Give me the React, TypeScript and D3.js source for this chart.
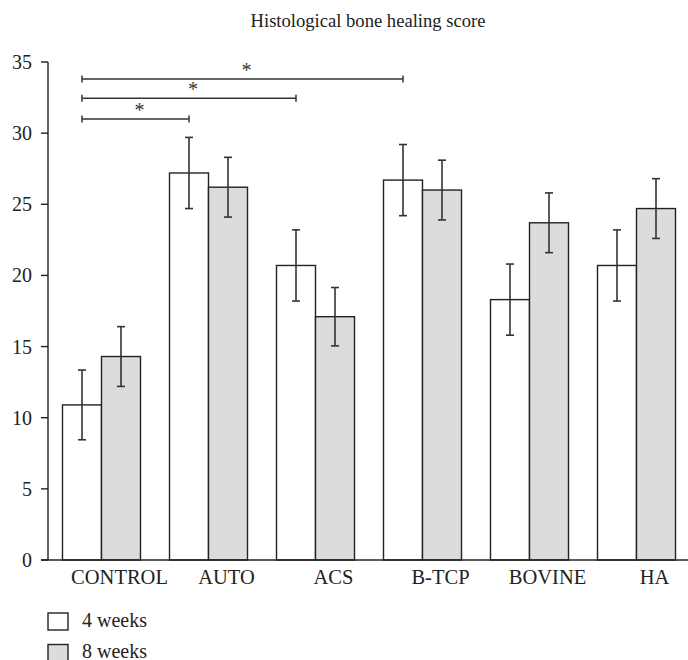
import React from "react";
import * as d3 from "d3";

const categories = ["CONTROL", "AUTO", "ACS", "B-TCP", "BOVINE", "HA"];
const seriesNames = ["4 weeks", "8 weeks"];
const weeks4 = [10.9, 27.2, 20.7, 26.7, 18.3, 20.7];
const weeks4Err = [2.45, 2.5, 2.5, 2.5, 2.5, 2.5];
const weeks8 = [14.3, 26.2, 17.1, 26.0, 23.7, 24.7];
const weeks8Err = [2.1, 2.1, 2.05, 2.1, 2.1, 2.1];
const yTicks = [0, 5, 10, 15, 20, 25, 30, 35];
const sigFrom = ["CONTROL", "CONTROL", "CONTROL"];
const sigTo = ["AUTO", "ACS", "B-TCP"];
const sigLevel = [31.0, 32.45, 33.8];

const W = 688;
const H = 660;
const FONT = "'Liberation Serif', 'Times New Roman', serif";
const fills = ["#ffffff", "#dcdcdc"];

export default function App() {
  const x = d3
    .scaleBand<string>()
    .domain(categories)
    .range([48, 690])
    .paddingInner(0.271)
    .paddingOuter(0.1355);
  const xs = d3.scaleBand<string>().domain(seriesNames).range([0, x.bandwidth()]);
  const y = d3.scaleLinear().domain([0, 35]).range([560, 62]);

  const series = [
    { name: seriesNames[0], vals: weeks4, errs: weeks4Err },
    { name: seriesNames[1], vals: weeks8, errs: weeks8Err },
  ];

  const cx = (cat: string, s: string) => (x(cat) as number) + (xs(s) as number) + xs.bandwidth() / 2;

  return (
    <svg width={W} height={H} style={{ position: "absolute", left: 0, top: 0 }} fontFamily={FONT}>
      <rect width={W} height={H} fill="#fff" />
      <text x={368} y={27} textAnchor="middle" fontSize={18.6} fill="#222">
        Histological bone healing score
      </text>

      {/* bars */}
      {series.map((s, si) =>
        categories.map((c, i) => (
          <rect
            key={s.name + c}
            x={(x(c) as number) + (xs(s.name) as number)}
            y={y(s.vals[i])}
            width={xs.bandwidth()}
            height={y(0) - y(s.vals[i])}
            fill={fills[si]}
            stroke="#222"
            strokeWidth={1.4}
          />
        ))
      )}

      {/* error bars */}
      {series.map((s) =>
        categories.map((c, i) => {
          const px = cx(c, s.name);
          const hi = y(s.vals[i] + s.errs[i]);
          const lo = y(s.vals[i] - s.errs[i]);
          return (
            <g key={"e" + s.name + c} stroke="#333" strokeWidth={1.6}>
              <line x1={px} x2={px} y1={hi} y2={lo} />
              <line x1={px - 4} x2={px + 4} y1={hi} y2={hi} />
              <line x1={px - 4} x2={px + 4} y1={lo} y2={lo} />
            </g>
          );
        })
      )}

      {/* axes */}
      <line x1={48} x2={48} y1={y(35)} y2={y(0)} stroke="#222" strokeWidth={1.4} />
      <line x1={41} x2={688} y1={y(0)} y2={y(0)} stroke="#222" strokeWidth={1.4} />
      {yTicks.map((t) => (
        <g key={t}>
          <line x1={41} x2={48} y1={y(t)} y2={y(t)} stroke="#222" strokeWidth={1.4} />
          <text x={32} y={y(t)} dy="0.35em" textAnchor="end" fontSize={20} fill="#222">
            {t}
          </text>
        </g>
      ))}
      {categories.map((c) => (
        <text
          key={c}
          x={(x(c) as number) + x.bandwidth() / 2 + 18}
          y={584}
          textAnchor="middle"
          fontSize={20.5}
          fill="#222"
        >
          {c}
        </text>
      ))}

      {/* significance brackets */}
      {sigFrom.map((f, i) => {
        const x1 = cx(f, seriesNames[0]);
        const x2 = cx(sigTo[i], seriesNames[0]);
        const yy = y(sigLevel[i]);
        return (
          <g key={"s" + i} stroke="#333" strokeWidth={1.5}>
            <line x1={x1} x2={x2} y1={yy} y2={yy} />
            <line x1={x1} x2={x1} y1={yy - 3.5} y2={yy + 3.5} />
            <line x1={x2} x2={x2} y1={yy - 3.5} y2={yy + 3.5} />
            <text x={(x1 + x2) / 2 + 4} y={yy - 2} textAnchor="middle" fontSize={20} fill="#333" stroke="none">
              *
            </text>
          </g>
        );
      })}

      {/* legend */}
      {seriesNames.map((n, i) => (
        <g key={n}>
          <rect x={48} y={613 + i * 31.5} width={20} height={17} fill={fills[i]} stroke="#222" strokeWidth={1.4} />
          <text x={82} y={627 + i * 30.5} fontSize={20} fill="#222">
            {n}
          </text>
        </g>
      ))}
    </svg>
  );
}
